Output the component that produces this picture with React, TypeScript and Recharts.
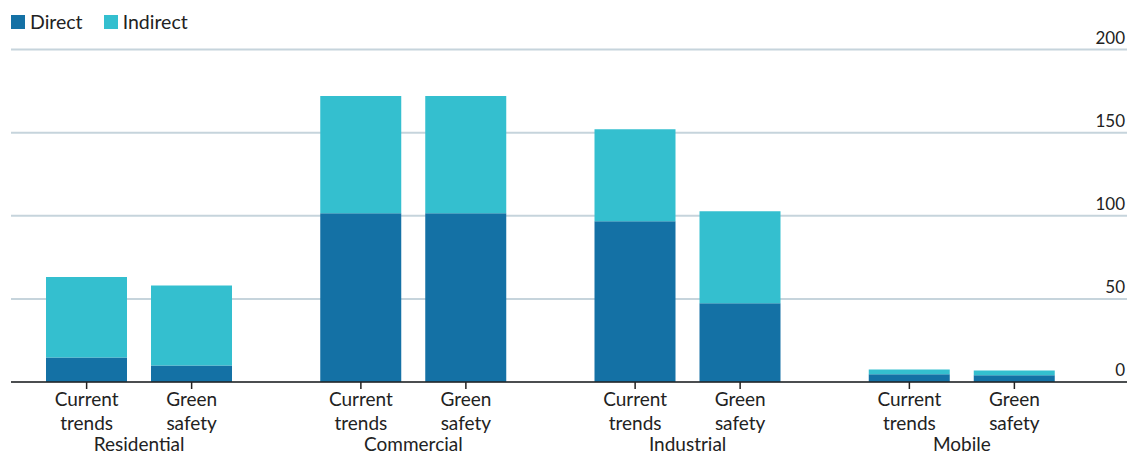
import { Bar, BarChart, CartesianGrid, XAxis, YAxis } from 'recharts'

const groups = ['Residential', 'Commercial', 'Industrial', 'Mobile']
const scenarios = ['Current\ntrends', 'Green\nsafety']
const currentDirect = [14.8, 101.5, 96.7, 4.7]
const currentIndirect = [48.3, 70.5, 55.4, 2.8]
const greenDirect = [9.9, 101.5, 47.3, 4.1]
const greenIndirect = [48.2, 70.5, 55.4, 2.8]
const yTicks = [0, 50, 100, 150, 200]

const DIRECT = '#1471a5'
const INDIRECT = '#34bfcf'
const FONT = 'Lato, "Open Sans", sans-serif'
const BAR_SIZE = 81
const BAR_GAP = 24

const legendItems = [
  { name: 'Direct', color: DIRECT },
  { name: 'Indirect', color: INDIRECT },
]

const rows = groups.map((g, i) => ({
  name: g,
  ctDirect: currentDirect[i],
  ctIndirect: currentIndirect[i],
  gsDirect: greenDirect[i],
  gsIndirect: greenIndirect[i],
}))

function GroupTick(props: any) {
  const { x, y, payload } = props
  const off = BAR_SIZE / 2 + BAR_GAP / 2
  return (
    <g fontFamily={FONT} fontSize={19} fill="#222">
      {scenarios.map((s, i) => {
        const cx = x + (i === 0 ? -off : off)
        const [l1, l2] = s.split('\n')
        return (
          <g key={s}>
            <line x1={cx} x2={cx} y1={y} y2={y + 7} stroke="#222" strokeWidth={1.5} />
            <text x={cx} y={y + 24} textAnchor="middle" fill="#222">{l1}</text>
            <text x={cx} y={y + 48} textAnchor="middle" fill="#222">{l2}</text>
          </g>
        )
      })}
      <text x={x} y={y + 69} textAnchor="middle" fill="#222">{payload.value}</text>
    </g>
  )
}

function ValueTick(props: any) {
  const { x, y, payload } = props
  return (
    <text x={x - 2} y={y - 6} textAnchor="end" fontFamily={FONT} fontSize={17} fill="#222">
      {payload.value}
    </text>
  )
}

export default function App() {
  return (
    <div style={{ position: 'absolute', left: 0, top: 0, width: 1145, height: 454 }}>
      <div
        style={{
          position: 'absolute',
          top: 11,
          left: 11,
          display: 'flex',
          fontFamily: FONT,
          fontSize: 19.5,
          color: '#222',
          lineHeight: '22px',
          zIndex: 1,
        }}
      >
        {legendItems.map((it) => (
          <div key={it.name} style={{ display: 'flex', alignItems: 'center', marginRight: 21 }}>
            <span style={{ width: 14, height: 14, background: it.color, display: 'inline-block', marginRight: 5 }} />
            <span>{it.name}</span>
          </div>
        ))}
      </div>
      <BarChart
        width={1145}
        height={454}
        data={rows}
        barSize={BAR_SIZE}
        barGap={BAR_GAP}
        margin={{ top: 49.5, right: 0, bottom: 2, left: 11 }}
      >
        <CartesianGrid vertical={false} stroke="#c6d4dc" strokeWidth={2} />
        <XAxis
          dataKey="name"
          height={70}
          padding={{ left: -9, right: 28 }}
          tickSize={0}
          tickMargin={0}
          tickLine={false}
          axisLine={{ stroke: '#222', strokeWidth: 1.5 }}
          tick={<GroupTick />}
          interval={0}
        />
        <YAxis
          orientation="right"
          domain={[0, 200]}
          ticks={yTicks}
          width={18}
          tickSize={0}
          tickMargin={0}
          axisLine={false}
          tickLine={false}
          tick={<ValueTick />}
        />
        <Bar dataKey="ctDirect" stackId="ct" fill={DIRECT} isAnimationActive={false} />
        <Bar dataKey="ctIndirect" stackId="ct" fill={INDIRECT} isAnimationActive={false} />
        <Bar dataKey="gsDirect" stackId="gs" fill={DIRECT} isAnimationActive={false} />
        <Bar dataKey="gsIndirect" stackId="gs" fill={INDIRECT} isAnimationActive={false} />
      </BarChart>
    </div>
  )
}
